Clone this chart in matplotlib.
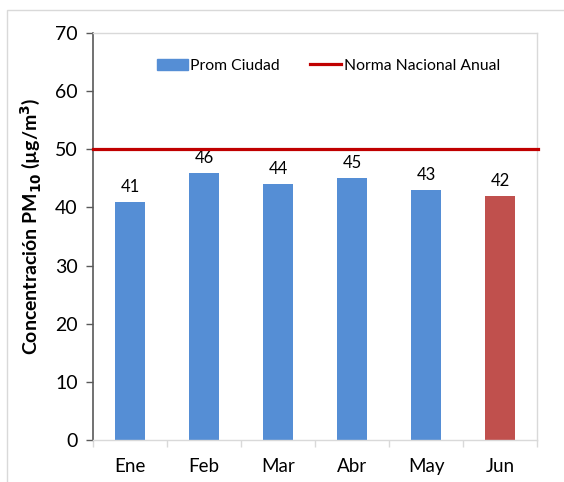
import matplotlib
matplotlib.use("Agg")
import matplotlib.pyplot as plt
from matplotlib.patches import Rectangle
from matplotlib.lines import Line2D

months = ["Ene", "Feb", "Mar", "Abr", "May", "Jun"]
prom_ciudad = [41, 46, 44, 45, 43, 42]
norma_anual = 50
bar_colors = ["#558ED5", "#558ED5", "#558ED5", "#558ED5", "#558ED5", "#C0504D"]
y_ticks = [0, 10, 20, 30, 40, 50, 60, 70]

plt.rcParams["font.family"] = ["Lato", "DejaVu Sans"]

W, H = 564, 482
fig = plt.figure(figsize=(W / 100, H / 100), dpi=100)

# outer chart frame
fig.patches.append(Rectangle((7 / W, -0.1), 1.2, 1 - 10 / H + 0.1,
                             transform=fig.transFigure, fill=False,
                             edgecolor="#D9D9D9", linewidth=1.0))

ax = fig.add_axes([93 / W, 1 - 440 / H, (537 - 93) / W, (440 - 33) / H])

x = list(range(len(months)))
bars = ax.bar(x, prom_ciudad, width=0.40, color=bar_colors, zorder=2)
for xi, v in zip(x, prom_ciudad):
    ax.annotate(f"{v}", (xi, v), xytext=(0, 5), textcoords="offset points",
                ha="center", va="bottom", fontsize=12, color="#000000")

ax.axhline(norma_anual, color="#C00000", linewidth=2.3, zorder=3,
           xmin=0, xmax=1.003, clip_on=False)

ax.set_xlim(-0.5, len(months) - 0.5)
ax.set_ylim(0, 70)
ax.set_yticks(y_ticks)
ax.set_xticks(x)
ax.set_xticklabels(months)
ax.set_xticks([i - 0.5 for i in range(len(months) + 1)], minor=True)

ax.tick_params(axis="y", direction="out", length=5, width=1, color="#595959",
               labelsize=14, pad=6)
ax.tick_params(axis="x", which="major", length=0, labelsize=13.5, pad=13)
ax.tick_params(axis="x", which="minor", direction="out", length=5, width=1,
               color="#D9D9D9")

for side in ["top", "right", "bottom"]:
    ax.spines[side].set_color("#D9D9D9")
    ax.spines[side].set_linewidth(1.0)
ax.spines["left"].set_color("#595959")
ax.spines["left"].set_linewidth(1.2)

ax.set_ylabel("Concentración PM$_{\\mathbf{10}}$ (µg/m$^{\\mathbf{3}}$)",
              fontsize=14, fontweight="bold")
ax.yaxis.set_label_coords(-0.113, 0.525)

handles = [Rectangle((0, 0), 1, 1, color="#558ED5"),
           Line2D([0], [0], color="#C00000", linewidth=2.3)]
ax.legend(handles, ["Prom Ciudad", "Norma Nacional Anual"], loc="upper center",
          bbox_to_anchor=(0.53, 0.972), ncol=2, frameon=False, fontsize=11.3,
          handlelength=2.0, handletextpad=0.15, columnspacing=1.9)

fig.savefig("out.png", dpi=100)
